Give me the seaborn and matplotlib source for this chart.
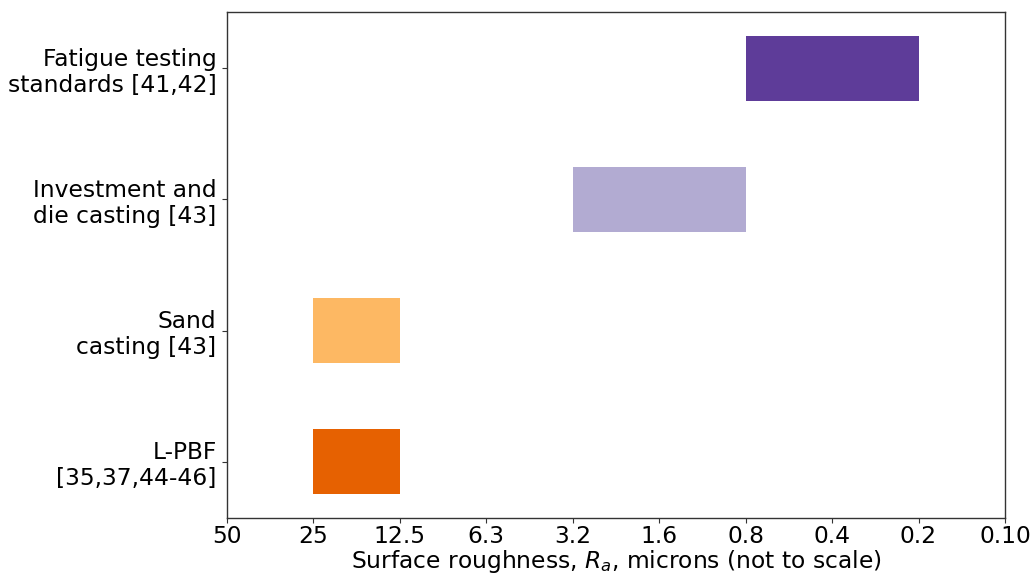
import matplotlib
matplotlib.use("Agg")
import matplotlib.pyplot as plt
import seaborn as sns
import pandas as pd

# Roughness grades shown along the x axis (evenly spaced, not to scale)
grades = ["50", "25", "12.5", "6.3", "3.2", "1.6", "0.8", "0.4", "0.2", "0.10"]

processes = [
    "L-PBF\n[35,37,44-46]",
    "Sand\ncasting [43]",
    "Investment and\ndie casting [43]",
    "Fatigue testing\nstandards [41,42]",
]
ra_rough = ["25", "25", "3.2", "0.8"]    # rough end of each range
ra_smooth = ["12.5", "12.5", "0.8", "0.2"]  # smooth end of each range
colors = ["#e66101", "#fdb863", "#b2abd2", "#5e3c99"]

sns.set_theme(style="white")
plt.rcParams["font.family"] = ["DejaVu Sans"]

df = pd.DataFrame({
    "process": processes,
    "start": [grades.index(v) for v in ra_rough],
    "stop": [grades.index(v) for v in ra_smooth],
})
df["span"] = df["stop"] - df["start"]
df["pos"] = range(len(df))

fig = plt.figure(figsize=(10.35, 5.77), dpi=100)
ax = fig.add_axes([0.2193, 0.1023, 0.7517, 0.8769])

ax.barh(df["pos"], df["span"], left=df["start"], height=0.5,
        color=colors, edgecolor="none")

ax.set_xlim(0, len(grades) - 1)
ax.set_ylim(-0.43, len(processes) - 1 + 0.43)
ax.set_xticks(range(len(grades)))
ax.set_xticklabels(grades)
ax.set_yticks(df["pos"])
ax.set_yticklabels(df["process"], ha="right", linespacing=1.15)

fs = 16.8
ax.tick_params(axis="both", labelsize=fs, length=3.5, width=0.8,
               color="#333333", labelcolor="black", left=True, bottom=True)
ax.tick_params(axis="y", pad=4)
ax.tick_params(axis="x", pad=1.5)
ax.set_xlabel("Surface roughness, $R_a$, microns (not to scale)", fontsize=fs,
              labelpad=0, color="black")

for side in ["left", "right", "top", "bottom"]:
    ax.spines[side].set_visible(True)
    ax.spines[side].set_color("#333333")
    ax.spines[side].set_linewidth(1.0)

ax.grid(False)
fig.savefig("out.png", dpi=100, facecolor="white")
